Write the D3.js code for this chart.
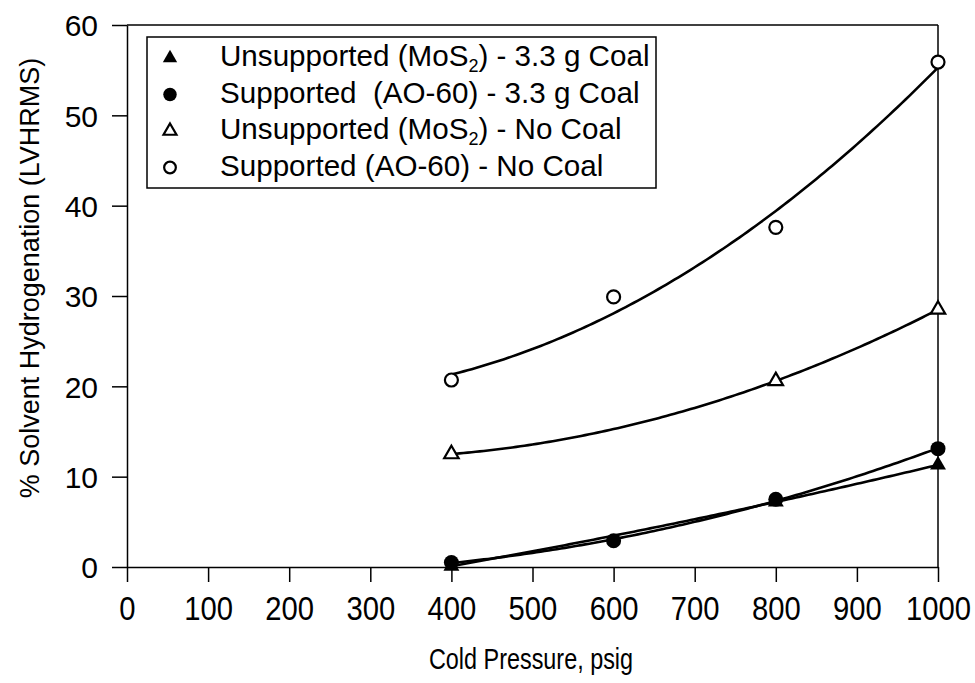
<!DOCTYPE html>
<html>
<head>
<meta charset="utf-8">
<script src="https://cdn.jsdelivr.net/npm/d3@7"></script>
<style>
  html, body { margin: 0; padding: 0; background: #fff; }
  svg { display: block; font-family: "Liberation Sans", Arial, sans-serif; }
</style>
</head>
<body>
<svg id="chart" width="975" height="683"></svg>
<script>
// Cold pressure (psig) and solvent hydrogenation (%) for each catalyst run
const pressureTicks = [0, 100, 200, 300, 400, 500, 600, 700, 800, 900, 1000];
const hydroTicks = [0, 10, 20, 30, 40, 50, 60];

const unsupCoalP = [400, 800, 1000];
const unsupCoalH = [0.1, 7.2, 11.3];

const supCoalP = [400, 600, 800, 1000];
const supCoalH = [0.5, 2.9, 7.5, 13.1];

const unsupNoCoalP = [400, 800, 1000];
const unsupNoCoalH = [12.5, 20.6, 28.5];

const supNoCoalP = [400, 600, 800, 1000];
const supNoCoalH = [20.7, 29.9, 37.6, 55.9];

const xTitle = "Cold Pressure, psig";
const yTitle = "% Solvent Hydrogenation (LVHRMS)";

const series = [
  { name: ["Unsupported (MoS", "2", ") - 3.3 g Coal"], p: unsupCoalP, h: unsupCoalH, shape: "triangle", filled: true },
  { name: ["Supported  (AO-60) - 3.3 g Coal"], p: supCoalP, h: supCoalH, shape: "circle", filled: true },
  { name: ["Unsupported (MoS", "2", ") - No Coal"], p: unsupNoCoalP, h: unsupNoCoalH, shape: "triangle", filled: false },
  { name: ["Supported (AO-60) - No Coal"], p: supNoCoalP, h: supNoCoalH, shape: "circle", filled: false }
];

const svg = d3.select("#chart");
const x = d3.scaleLinear().domain([0, 1000]).range([127, 938]);
const y = d3.scaleLinear().domain([0, 60]).range([567, 25]);

// Least-squares second-order polynomial through a series
function quadFit(xs, ys) {
  const n = xs.length;
  const m = d3.mean(xs);
  const t = xs.map(v => (v - m) / 100);
  let s = [0, 0, 0, 0, 0], r = [0, 0, 0];
  for (let i = 0; i < n; i++) {
    for (let k = 0; k <= 4; k++) s[k] += Math.pow(t[i], k);
    for (let k = 0; k <= 2; k++) r[k] += Math.pow(t[i], k) * ys[i];
  }
  const A = [[s[0], s[1], s[2]], [s[1], s[2], s[3]], [s[2], s[3], s[4]]];
  const det = M => M[0][0]*(M[1][1]*M[2][2]-M[1][2]*M[2][1]) - M[0][1]*(M[1][0]*M[2][2]-M[1][2]*M[2][0]) + M[0][2]*(M[1][0]*M[2][1]-M[1][1]*M[2][0]);
  const D = det(A);
  const coef = [0, 1, 2].map(c => det(A.map((row, i) => row.map((v, j) => j === c ? r[i] : v))) / D);
  return v => { const u = (v - m) / 100; return coef[0] + coef[1]*u + coef[2]*u*u; };
}

const stroke = "#000";

// Axes
const xAxis = d3.axisBottom(x).tickValues(pressureTicks).tickFormat(d3.format("d"))
  .tickSize(15).tickSizeOuter(0);
const yAxis = d3.axisLeft(y).tickValues(hydroTicks).tickFormat(d3.format("d"))
  .tickSize(15).tickSizeOuter(0).tickPadding(14);

const gx = svg.append("g").attr("transform", `translate(0,${y(0)})`).call(xAxis);
const gy = svg.append("g").attr("transform", `translate(${x(0)},0)`).call(yAxis);
[gx, gy].forEach(g => {
  g.attr("font-size", null).attr("font-family", null);
  g.selectAll("path, line").attr("stroke", stroke).attr("stroke-width", 1.5);
  g.selectAll("text").attr("fill", "#000");
});
gx.selectAll(".tick text")
  .attr("dy", null).attr("y", 0).attr("font-size", 34)
  .attr("transform", `translate(0,${620 - y(0)}) scale(0.86,1)`);
gy.selectAll(".tick text").attr("dy", "0.36em").attr("font-size", 30);

// Frame top and right edges
svg.append("line").attr("x1", x(0)).attr("x2", x(1000)).attr("y1", y(60)).attr("y2", y(60))
  .attr("stroke", stroke).attr("stroke-width", 1.5);
svg.append("line").attr("x1", x(1000)).attr("x2", x(1000)).attr("y1", y(60)).attr("y2", y(0))
  .attr("stroke", stroke).attr("stroke-width", 1.5);

// Axis titles
svg.append("text")
  .attr("transform", `translate(531,669) scale(0.78,1)`)
  .attr("text-anchor", "middle").attr("font-size", 30).text(xTitle);
svg.append("text")
  .attr("transform", `translate(39,278) rotate(-90)`)
  .attr("text-anchor", "middle").attr("font-size", 27).text(yTitle);

// Fitted curves
const line = d3.line().x(d => x(d[0])).y(d => y(d[1]));
series.forEach(s => {
  const f = quadFit(s.p, s.h);
  const xs = d3.range(d3.min(s.p), d3.max(s.p) + 0.1, 5);
  svg.append("path").datum(xs.map(v => [v, f(v)]))
    .attr("d", line).attr("fill", "none").attr("stroke", stroke).attr("stroke-width", 2.6);
});

// Markers
const triPath = d3.symbol().type(d3.symbolTriangle);
function drawMarker(g, shape, filled, cx, cy, scale = 1) {
  if (shape === "circle") {
    g.append("circle").attr("cx", cx).attr("cy", cy)
      .attr("r", (filled ? 7.5 : 6.5) * scale)
      .attr("fill", filled ? "#000" : "#fff")
      .attr("stroke", "#000").attr("stroke-width", filled ? 0 : 2.2);
  } else {
    g.append("path").attr("d", triPath.size((filled ? 110 : 90) * scale * scale)())
      .attr("transform", `translate(${cx},${cy})`)
      .attr("fill", filled ? "#000" : "#fff")
      .attr("stroke", "#000").attr("stroke-width", filled ? 0 : 2.2);
  }
}
const gm = svg.append("g");
series.forEach(s => {
  s.p.forEach((p, i) => drawMarker(gm, s.shape, s.filled, x(p), y(s.h[i])));
});

// Legend
const lg = svg.append("g");
lg.append("rect").attr("x", 147).attr("y", 37).attr("width", 509).attr("height", 151)
  .attr("fill", "#fff").attr("stroke", stroke).attr("stroke-width", 1.5);
series.forEach((s, i) => {
  const cy = 55 + i * 36.5;
  drawMarker(lg, s.shape, s.filled, 170, cy + 3, 0.9);
  const t = lg.append("text").attr("x", 220).attr("y", cy + 11)
    .attr("font-size", 29.6).style("white-space", "pre");
  t.append("tspan").text(s.name[0]);
  if (s.name.length > 1) {
    t.append("tspan").attr("font-size", 18).attr("dy", 6).text(s.name[1]);
    t.append("tspan").attr("dy", -6).text(s.name[2]);
  }
});
</script>
</body>
</html>
